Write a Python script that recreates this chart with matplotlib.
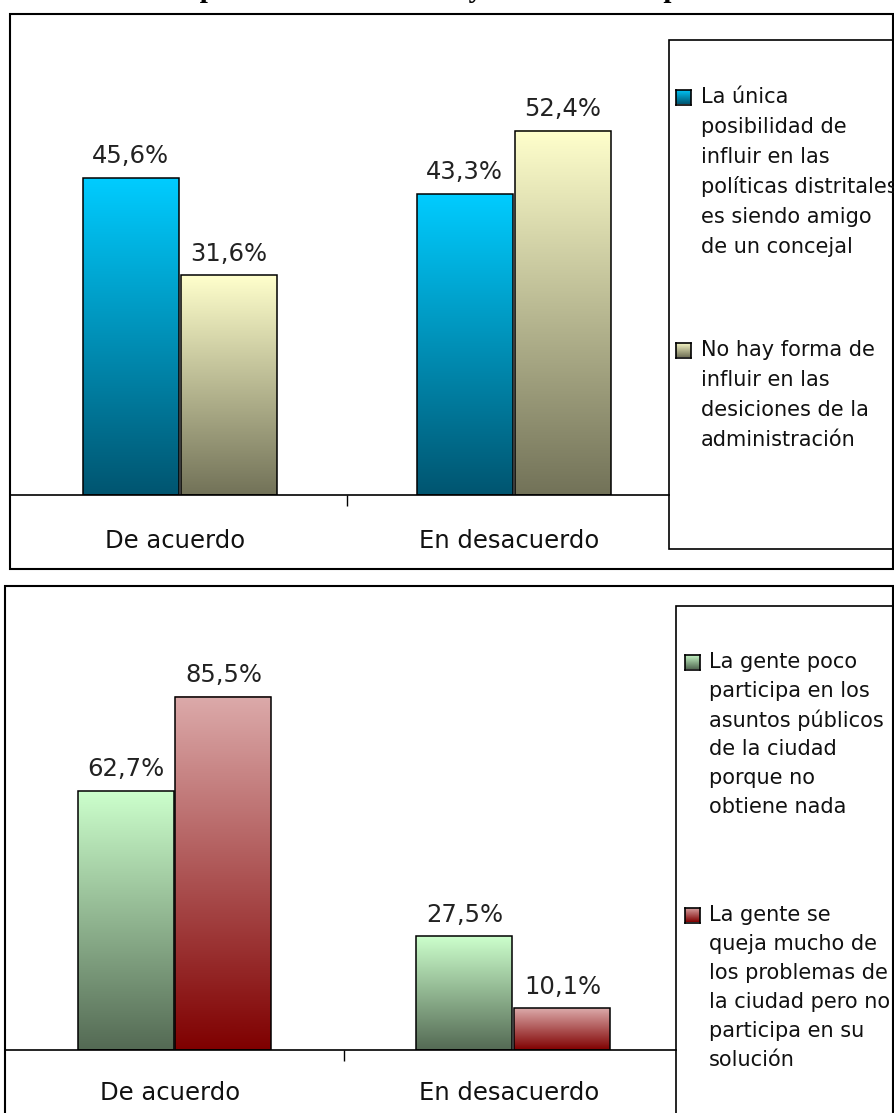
# Two grouped bar charts (gradient bars), survey on public participation
import numpy as np
import matplotlib
matplotlib.use("Agg")
import matplotlib.pyplot as plt
from matplotlib.colors import LinearSegmentedColormap
from matplotlib.patches import Rectangle

W, H = 894, 1113

# data
title = "Participación en los asuntos y las decisiones públicas"
categories = ["De acuerdo", "En desacuerdo"]

top_labels = ["La única\nposibilidad de\ninfluir en las\npolíticas distritales\nes siendo amigo\nde un concejal",
              "No hay forma de\ninfluir en las\ndesiciones de la\nadministración"]
top_vals_1 = [45.6, 43.3]
top_vals_2 = [31.6, 52.4]

bottom_labels = ["La gente poco\nparticipa en los\nasuntos públicos\nde la ciudad\nporque no\nobtiene nada",
                 "La gente se\nqueja mucho de\nlos problemas de\nla ciudad pero no\nparticipa en su\nsolución"]
bottom_vals_1 = [62.7, 27.5]
bottom_vals_2 = [85.5, 10.1]

# gradients (bottom colour, top colour)
blue = LinearSegmentedColormap.from_list("blue", ["#005570", "#00ccff"])
khaki = LinearSegmentedColormap.from_list("khaki", ["#727258", "#ffffcc"])
green = LinearSegmentedColormap.from_list("green", ["#546a54", "#ccffcc"])
red = LinearSegmentedColormap.from_list("red", ["#7f0000", "#dcaaaa"])

plt.rcParams['font.family'] = ['DejaVu Sans']

fig = plt.figure(figsize=(W / 100, H / 100), dpi=100)
grad = np.linspace(0, 1, 256).reshape(-1, 1)


def fx(x):
    return x / W


def fy(y):
    return 1 - y / H


def frame(x0, y0, x1, y1, lw=1.5):
    fig.add_artist(Rectangle((fx(x0), fy(y1)), fx(x1 - x0), (y1 - y0) / H,
                             transform=fig.transFigure, fill=False,
                             edgecolor="black", linewidth=lw))


def fmt(v):
    return ("%.1f%%" % v).replace(".", ",")


def gradient_bars(ax, xs, vals, width, cmap):
    bars = ax.bar(xs, vals, width, facecolor="none", edgecolor="black",
                  linewidth=1.1, zorder=3)
    for b in bars:
        x0, y0 = b.get_x(), b.get_y()
        ax.imshow(grad, extent=[x0, x0 + b.get_width(), y0, y0 + b.get_height()],
                  origin="lower", aspect="auto", cmap=cmap, zorder=2,
                  interpolation="bilinear")
    ax.bar_label(bars, labels=[fmt(v) for v in vals], padding=7,
                 fontsize=17.5, color="#222222")
    return bars


def panel(left, right, base, top, ppu, centers_px, v1, v2, c1, c2, label_dy):
    ax = fig.add_axes([fx(left), fy(base), fx(right - left), (base - top) / H])
    ax.patch.set_alpha(0)
    unit = centers_px[1] - centers_px[0]
    width = 96 / unit
    x = np.arange(len(categories))
    off = width / 2 + 1 / unit
    gradient_bars(ax, x - off, v1, width, c1)
    gradient_bars(ax, x + off, v2, width, c2)
    ax.set_xlim((left - centers_px[0]) / unit, (right - centers_px[0]) / unit)
    ax.set_ylim(0, (base - top) / ppu)
    for s in ["left", "right", "top"]:
        ax.spines[s].set_visible(False)
    ax.spines["bottom"].set_linewidth(1.2)
    ax.set_yticks([])
    ax.set_xticks([0.5])
    ax.set_xticklabels([""])
    ax.tick_params(axis="x", length=8, width=1, direction="out")
    for i, cat in enumerate(categories):
        ax.annotate(cat, xy=(i, 0), xycoords="data", xytext=(-4, -label_dy),
                    textcoords="offset pixels", ha="center", va="center",
                    fontsize=17.5, color="#111111")
    return ax


def legend(x_sw, x_txt, sw, ys, labels, cmaps, pitch):
    for y0, lab, cm in zip(ys, labels, cmaps):
        lax = fig.add_axes([fx(x_sw), fy(y0 + sw / 2), fx(sw), sw / H])
        lax.imshow(grad, origin="lower", aspect="auto", cmap=cm)
        lax.set_xticks([])
        lax.set_yticks([])
        for s in lax.spines.values():
            s.set_linewidth(1.2)
        for i, line in enumerate(lab.split("\n")):
            fig.text(fx(x_txt), fy(y0 + i * pitch), line, ha="left", va="center",
                     fontsize=15, color="#111111")


# title (cut off at the top edge like the original)
fig.text(fx(442), 1 + 3 / H, title, ha="center", va="baseline", fontsize=21,
         fontweight="bold", family="Liberation Serif")

# top chart
frame(10, 14, 893, 569)
panel(10, 669, 495, 60, 6.95, [179.5, 513.5], top_vals_1, top_vals_2, blue, khaki, 46)
frame(669, 40, 893, 549, lw=1.2)
legend(676, 701, 15, [97, 350], top_labels, [blue, khaki], 30)

# bottom chart
frame(5, 586, 893, 1125)
panel(5, 676, 1050, 620, 4.13, [174.5, 513.5], bottom_vals_1, bottom_vals_2, green, red, 43)
frame(676, 606, 893, 1125, lw=1.2)
legend(685, 709, 15, [662, 915], bottom_labels, [green, red], 29)

fig.savefig("out.png", dpi=100)
